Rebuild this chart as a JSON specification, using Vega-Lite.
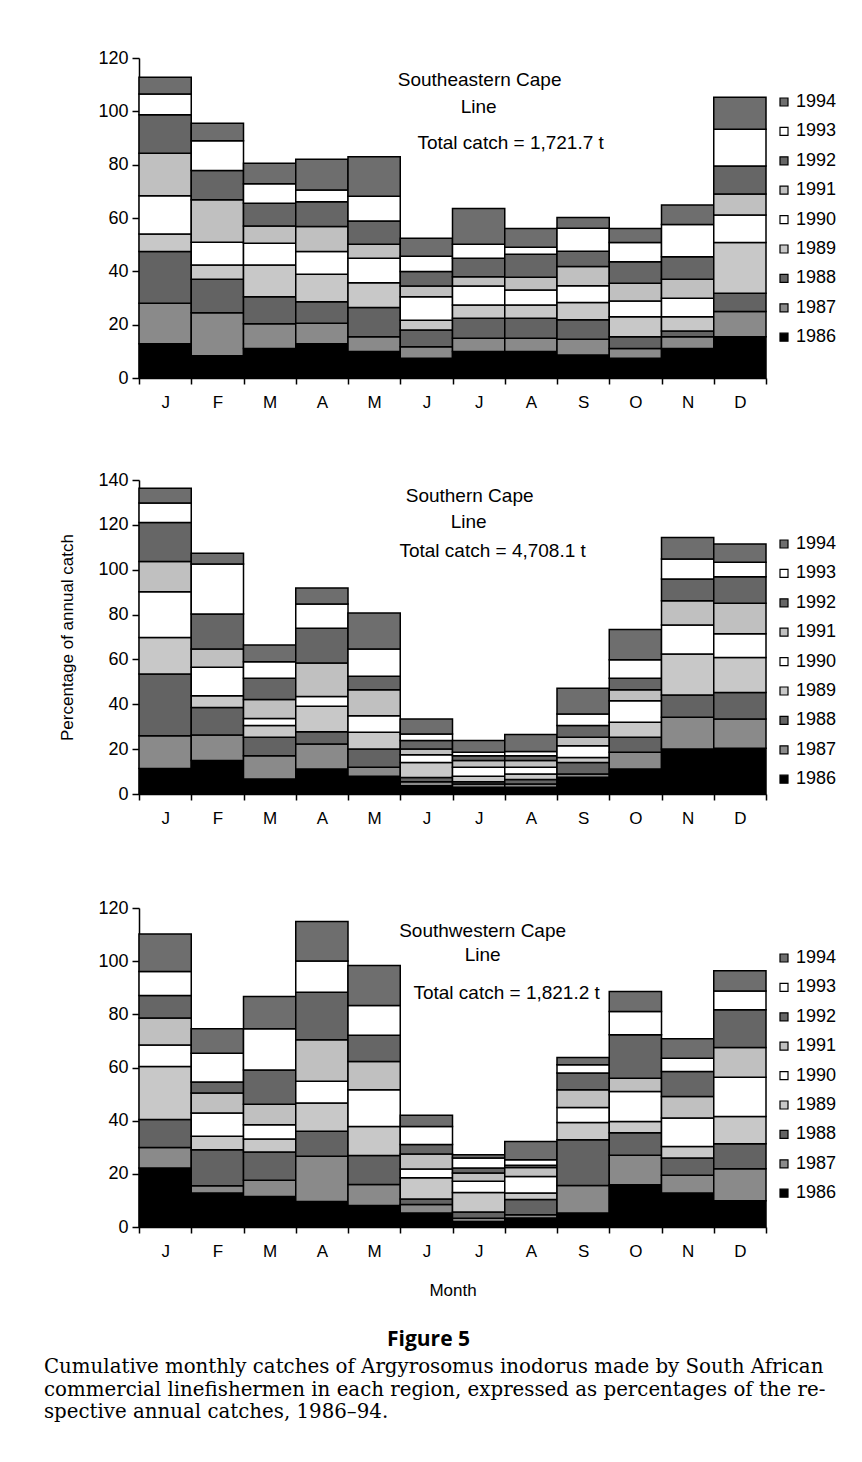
{
"$schema": "https://vega.github.io/schema/vega-lite/v6.json",
"background": "white",
"padding": {"left": 43, "top": 49, "right": 10, "bottom": 10},
"config": {
  "font": "Liberation Sans",
  "view": {"stroke": null},
  "axis": {"domainColor": "black", "tickColor": "black", "labelColor": "black", "titleColor": "black", "grid": false, "domainWidth": 1.5, "tickWidth": 1.5, "labelFont": "Liberation Sans", "titleFont": "Liberation Sans", "titleFontWeight": "normal"},
  "legend": {"labelFont": "Liberation Sans", "labelColor": "black"}
},
"datasets": {
"catch": [
{"region":"SE","month":"Jan","year":1986,"value":12.8},{"region":"SE","month":"Jan","year":1987,"value":15.2},{"region":"SE","month":"Jan","year":1988,"value":19.4},{"region":"SE","month":"Jan","year":1989,"value":6.6},{"region":"SE","month":"Jan","year":1990,"value":14.3},{"region":"SE","month":"Jan","year":1991,"value":16.0},{"region":"SE","month":"Jan","year":1992,"value":14.4},{"region":"SE","month":"Jan","year":1993,"value":7.8},{"region":"SE","month":"Jan","year":1994,"value":6.3},
{"region":"SE","month":"Feb","year":1986,"value":8.3},{"region":"SE","month":"Feb","year":1987,"value":16.2},{"region":"SE","month":"Feb","year":1988,"value":12.5},{"region":"SE","month":"Feb","year":1989,"value":5.4},{"region":"SE","month":"Feb","year":1990,"value":8.5},{"region":"SE","month":"Feb","year":1991,"value":15.9},{"region":"SE","month":"Feb","year":1992,"value":11.0},{"region":"SE","month":"Feb","year":1993,"value":11.2},{"region":"SE","month":"Feb","year":1994,"value":6.5},
{"region":"SE","month":"Mar","year":1986,"value":11.1},{"region":"SE","month":"Mar","year":1987,"value":9.2},{"region":"SE","month":"Mar","year":1988,"value":10.2},{"region":"SE","month":"Mar","year":1989,"value":11.9},{"region":"SE","month":"Mar","year":1990,"value":8.1},{"region":"SE","month":"Mar","year":1991,"value":6.5},{"region":"SE","month":"Mar","year":1992,"value":8.5},{"region":"SE","month":"Mar","year":1993,"value":7.3},{"region":"SE","month":"Mar","year":1994,"value":7.7},
{"region":"SE","month":"Apr","year":1986,"value":12.8},{"region":"SE","month":"Apr","year":1987,"value":7.7},{"region":"SE","month":"Apr","year":1988,"value":8.1},{"region":"SE","month":"Apr","year":1989,"value":10.3},{"region":"SE","month":"Apr","year":1990,"value":8.5},{"region":"SE","month":"Apr","year":1991,"value":9.4},{"region":"SE","month":"Apr","year":1992,"value":9.3},{"region":"SE","month":"Apr","year":1993,"value":4.4},{"region":"SE","month":"Apr","year":1994,"value":11.5},
{"region":"SE","month":"May","year":1986,"value":9.9},{"region":"SE","month":"May","year":1987,"value":5.6},{"region":"SE","month":"May","year":1988,"value":10.9},{"region":"SE","month":"May","year":1989,"value":9.3},{"region":"SE","month":"May","year":1990,"value":9.2},{"region":"SE","month":"May","year":1991,"value":5.3},{"region":"SE","month":"May","year":1992,"value":8.7},{"region":"SE","month":"May","year":1993,"value":9.3},{"region":"SE","month":"May","year":1994,"value":14.8},
{"region":"SE","month":"Jun","year":1986,"value":7.4},{"region":"SE","month":"Jun","year":1987,"value":4.3},{"region":"SE","month":"Jun","year":1988,"value":6.3},{"region":"SE","month":"Jun","year":1989,"value":3.7},{"region":"SE","month":"Jun","year":1990,"value":8.8},{"region":"SE","month":"Jun","year":1991,"value":4.0},{"region":"SE","month":"Jun","year":1992,"value":5.4},{"region":"SE","month":"Jun","year":1993,"value":5.8},{"region":"SE","month":"Jun","year":1994,"value":6.7},
{"region":"SE","month":"Jul","year":1986,"value":9.9},{"region":"SE","month":"Jul","year":1987,"value":5.0},{"region":"SE","month":"Jul","year":1988,"value":7.5},{"region":"SE","month":"Jul","year":1989,"value":5.0},{"region":"SE","month":"Jul","year":1990,"value":7.1},{"region":"SE","month":"Jul","year":1991,"value":3.5},{"region":"SE","month":"Jul","year":1992,"value":6.9},{"region":"SE","month":"Jul","year":1993,"value":5.3},{"region":"SE","month":"Jul","year":1994,"value":13.4},
{"region":"SE","month":"Aug","year":1986,"value":9.9},{"region":"SE","month":"Aug","year":1987,"value":5.0},{"region":"SE","month":"Aug","year":1988,"value":7.5},{"region":"SE","month":"Aug","year":1989,"value":5.0},{"region":"SE","month":"Aug","year":1990,"value":5.6},{"region":"SE","month":"Aug","year":1991,"value":4.8},{"region":"SE","month":"Aug","year":1992,"value":8.6},{"region":"SE","month":"Aug","year":1993,"value":2.6},{"region":"SE","month":"Aug","year":1994,"value":7.1},
{"region":"SE","month":"Sep","year":1986,"value":8.6},{"region":"SE","month":"Sep","year":1987,"value":5.9},{"region":"SE","month":"Sep","year":1988,"value":7.3},{"region":"SE","month":"Sep","year":1989,"value":6.5},{"region":"SE","month":"Sep","year":1990,"value":6.3},{"region":"SE","month":"Sep","year":1991,"value":7.2},{"region":"SE","month":"Sep","year":1992,"value":5.7},{"region":"SE","month":"Sep","year":1993,"value":8.7},{"region":"SE","month":"Sep","year":1994,"value":4.0},
{"region":"SE","month":"Oct","year":1986,"value":7.4},{"region":"SE","month":"Oct","year":1987,"value":3.7},{"region":"SE","month":"Oct","year":1988,"value":4.4},{"region":"SE","month":"Oct","year":1989,"value":7.5},{"region":"SE","month":"Oct","year":1990,"value":5.9},{"region":"SE","month":"Oct","year":1991,"value":6.6},{"region":"SE","month":"Oct","year":1992,"value":8.1},{"region":"SE","month":"Oct","year":1993,"value":7.2},{"region":"SE","month":"Oct","year":1994,"value":5.3},
{"region":"SE","month":"Nov","year":1986,"value":11.1},{"region":"SE","month":"Nov","year":1987,"value":4.4},{"region":"SE","month":"Nov","year":1988,"value":2.1},{"region":"SE","month":"Nov","year":1989,"value":5.4},{"region":"SE","month":"Nov","year":1990,"value":6.9},{"region":"SE","month":"Nov","year":1991,"value":7.1},{"region":"SE","month":"Nov","year":1992,"value":8.5},{"region":"SE","month":"Nov","year":1993,"value":12.1},{"region":"SE","month":"Nov","year":1994,"value":7.3},
{"region":"SE","month":"Dec","year":1986,"value":15.5},{"region":"SE","month":"Dec","year":1987,"value":9.4},{"region":"SE","month":"Dec","year":1988,"value":6.9},{"region":"SE","month":"Dec","year":1989,"value":19.0},{"region":"SE","month":"Dec","year":1990,"value":10.3},{"region":"SE","month":"Dec","year":1991,"value":7.9},{"region":"SE","month":"Dec","year":1992,"value":10.5},{"region":"SE","month":"Dec","year":1993,"value":13.8},{"region":"SE","month":"Dec","year":1994,"value":12.0},
{"region":"S","month":"Jan","year":1986,"value":11.4},{"region":"S","month":"Jan","year":1987,"value":14.6},{"region":"S","month":"Jan","year":1988,"value":27.5},{"region":"S","month":"Jan","year":1989,"value":16.3},{"region":"S","month":"Jan","year":1990,"value":20.4},{"region":"S","month":"Jan","year":1991,"value":13.5},{"region":"S","month":"Jan","year":1992,"value":17.4},{"region":"S","month":"Jan","year":1993,"value":8.6},{"region":"S","month":"Jan","year":1994,"value":6.6},
{"region":"S","month":"Feb","year":1986,"value":14.9},{"region":"S","month":"Feb","year":1987,"value":11.4},{"region":"S","month":"Feb","year":1988,"value":12.3},{"region":"S","month":"Feb","year":1989,"value":5.2},{"region":"S","month":"Feb","year":1990,"value":12.7},{"region":"S","month":"Feb","year":1991,"value":8.1},{"region":"S","month":"Feb","year":1992,"value":15.6},{"region":"S","month":"Feb","year":1993,"value":22.3},{"region":"S","month":"Feb","year":1994,"value":4.8},
{"region":"S","month":"Mar","year":1986,"value":6.7},{"region":"S","month":"Mar","year":1987,"value":10.4},{"region":"S","month":"Mar","year":1988,"value":8.2},{"region":"S","month":"Mar","year":1989,"value":5.2},{"region":"S","month":"Mar","year":1990,"value":3.2},{"region":"S","month":"Mar","year":1991,"value":8.4},{"region":"S","month":"Mar","year":1992,"value":9.5},{"region":"S","month":"Mar","year":1993,"value":7.4},{"region":"S","month":"Mar","year":1994,"value":7.4},
{"region":"S","month":"Apr","year":1986,"value":11.1},{"region":"S","month":"Apr","year":1987,"value":11.2},{"region":"S","month":"Apr","year":1988,"value":5.5},{"region":"S","month":"Apr","year":1989,"value":11.3},{"region":"S","month":"Apr","year":1990,"value":4.4},{"region":"S","month":"Apr","year":1991,"value":14.9},{"region":"S","month":"Apr","year":1992,"value":15.5},{"region":"S","month":"Apr","year":1993,"value":10.8},{"region":"S","month":"Apr","year":1994,"value":7.1},
{"region":"S","month":"May","year":1986,"value":7.9},{"region":"S","month":"May","year":1987,"value":4.0},{"region":"S","month":"May","year":1988,"value":8.2},{"region":"S","month":"May","year":1989,"value":7.4},{"region":"S","month":"May","year":1990,"value":7.4},{"region":"S","month":"May","year":1991,"value":11.6},{"region":"S","month":"May","year":1992,"value":6.0},{"region":"S","month":"May","year":1993,"value":12.1},{"region":"S","month":"May","year":1994,"value":16.1},
{"region":"S","month":"Jun","year":1986,"value":3.7},{"region":"S","month":"Jun","year":1987,"value":1.8},{"region":"S","month":"Jun","year":1988,"value":1.9},{"region":"S","month":"Jun","year":1989,"value":6.7},{"region":"S","month":"Jun","year":1990,"value":3.4},{"region":"S","month":"Jun","year":1991,"value":2.6},{"region":"S","month":"Jun","year":1992,"value":3.7},{"region":"S","month":"Jun","year":1993,"value":2.9},{"region":"S","month":"Jun","year":1994,"value":6.7},
{"region":"S","month":"Jul","year":1986,"value":3.0},{"region":"S","month":"Jul","year":1987,"value":1.5},{"region":"S","month":"Jul","year":1988,"value":1.0},{"region":"S","month":"Jul","year":1989,"value":2.4},{"region":"S","month":"Jul","year":1990,"value":4.0},{"region":"S","month":"Jul","year":1991,"value":3.0},{"region":"S","month":"Jul","year":1992,"value":2.2},{"region":"S","month":"Jul","year":1993,"value":1.5},{"region":"S","month":"Jul","year":1994,"value":5.2},
{"region":"S","month":"Aug","year":1986,"value":3.0},{"region":"S","month":"Aug","year":1987,"value":1.5},{"region":"S","month":"Aug","year":1988,"value":2.0},{"region":"S","month":"Aug","year":1989,"value":2.4},{"region":"S","month":"Aug","year":1990,"value":3.0},{"region":"S","month":"Aug","year":1991,"value":3.0},{"region":"S","month":"Aug","year":1992,"value":2.2},{"region":"S","month":"Aug","year":1993,"value":1.8},{"region":"S","month":"Aug","year":1994,"value":7.6},
{"region":"S","month":"Sep","year":1986,"value":7.5},{"region":"S","month":"Sep","year":1987,"value":1.4},{"region":"S","month":"Sep","year":1988,"value":5.2},{"region":"S","month":"Sep","year":1989,"value":2.2},{"region":"S","month":"Sep","year":1990,"value":5.2},{"region":"S","month":"Sep","year":1991,"value":3.8},{"region":"S","month":"Sep","year":1992,"value":5.2},{"region":"S","month":"Sep","year":1993,"value":5.2},{"region":"S","month":"Sep","year":1994,"value":11.4},
{"region":"S","month":"Oct","year":1986,"value":11.1},{"region":"S","month":"Oct","year":1987,"value":7.5},{"region":"S","month":"Oct","year":1988,"value":6.7},{"region":"S","month":"Oct","year":1989,"value":6.7},{"region":"S","month":"Oct","year":1990,"value":9.6},{"region":"S","month":"Oct","year":1991,"value":4.9},{"region":"S","month":"Oct","year":1992,"value":5.1},{"region":"S","month":"Oct","year":1993,"value":8.3},{"region":"S","month":"Oct","year":1994,"value":13.4},
{"region":"S","month":"Nov","year":1986,"value":20.1},{"region":"S","month":"Nov","year":1987,"value":14.1},{"region":"S","month":"Nov","year":1988,"value":9.9},{"region":"S","month":"Nov","year":1989,"value":18.3},{"region":"S","month":"Nov","year":1990,"value":13.0},{"region":"S","month":"Nov","year":1991,"value":10.8},{"region":"S","month":"Nov","year":1992,"value":9.7},{"region":"S","month":"Nov","year":1993,"value":8.9},{"region":"S","month":"Nov","year":1994,"value":9.6},
{"region":"S","month":"Dec","year":1986,"value":20.4},{"region":"S","month":"Dec","year":1987,"value":13.0},{"region":"S","month":"Dec","year":1988,"value":11.9},{"region":"S","month":"Dec","year":1989,"value":15.6},{"region":"S","month":"Dec","year":1990,"value":10.6},{"region":"S","month":"Dec","year":1991,"value":13.5},{"region":"S","month":"Dec","year":1992,"value":11.9},{"region":"S","month":"Dec","year":1993,"value":6.4},{"region":"S","month":"Dec","year":1994,"value":8.2},
{"region":"SW","month":"Jan","year":1986,"value":22.2},{"region":"SW","month":"Jan","year":1987,"value":7.7},{"region":"SW","month":"Jan","year":1988,"value":10.5},{"region":"SW","month":"Jan","year":1989,"value":20.0},{"region":"SW","month":"Jan","year":1990,"value":8.1},{"region":"SW","month":"Jan","year":1991,"value":10.1},{"region":"SW","month":"Jan","year":1992,"value":8.5},{"region":"SW","month":"Jan","year":1993,"value":9.0},{"region":"SW","month":"Jan","year":1994,"value":14.1},
{"region":"SW","month":"Feb","year":1986,"value":12.8},{"region":"SW","month":"Feb","year":1987,"value":2.7},{"region":"SW","month":"Feb","year":1988,"value":13.6},{"region":"SW","month":"Feb","year":1989,"value":5.0},{"region":"SW","month":"Feb","year":1990,"value":8.8},{"region":"SW","month":"Feb","year":1991,"value":7.5},{"region":"SW","month":"Feb","year":1992,"value":4.1},{"region":"SW","month":"Feb","year":1993,"value":10.9},{"region":"SW","month":"Feb","year":1994,"value":9.2},
{"region":"SW","month":"Mar","year":1986,"value":11.5},{"region":"SW","month":"Mar","year":1987,"value":6.1},{"region":"SW","month":"Mar","year":1988,"value":10.6},{"region":"SW","month":"Mar","year":1989,"value":4.9},{"region":"SW","month":"Mar","year":1990,"value":5.4},{"region":"SW","month":"Mar","year":1991,"value":7.7},{"region":"SW","month":"Mar","year":1992,"value":12.9},{"region":"SW","month":"Mar","year":1993,"value":15.5},{"region":"SW","month":"Mar","year":1994,"value":12.1},
{"region":"SW","month":"Apr","year":1986,"value":9.6},{"region":"SW","month":"Apr","year":1987,"value":17.0},{"region":"SW","month":"Apr","year":1988,"value":9.4},{"region":"SW","month":"Apr","year":1989,"value":10.6},{"region":"SW","month":"Apr","year":1990,"value":8.2},{"region":"SW","month":"Apr","year":1991,"value":15.6},{"region":"SW","month":"Apr","year":1992,"value":17.9},{"region":"SW","month":"Apr","year":1993,"value":11.8},{"region":"SW","month":"Apr","year":1994,"value":14.8},
{"region":"SW","month":"May","year":1986,"value":8.1},{"region":"SW","month":"May","year":1987,"value":7.9},{"region":"SW","month":"May","year":1988,"value":10.9},{"region":"SW","month":"May","year":1989,"value":10.9},{"region":"SW","month":"May","year":1990,"value":13.8},{"region":"SW","month":"May","year":1991,"value":10.7},{"region":"SW","month":"May","year":1992,"value":9.8},{"region":"SW","month":"May","year":1993,"value":11.2},{"region":"SW","month":"May","year":1994,"value":15.1},
{"region":"SW","month":"Jun","year":1986,"value":5.3},{"region":"SW","month":"Jun","year":1987,"value":3.2},{"region":"SW","month":"Jun","year":1988,"value":2.0},{"region":"SW","month":"Jun","year":1989,"value":8.0},{"region":"SW","month":"Jun","year":1990,"value":3.3},{"region":"SW","month":"Jun","year":1991,"value":5.7},{"region":"SW","month":"Jun","year":1992,"value":3.5},{"region":"SW","month":"Jun","year":1993,"value":6.8},{"region":"SW","month":"Jun","year":1994,"value":4.2},
{"region":"SW","month":"Jul","year":1986,"value":2.1},{"region":"SW","month":"Jul","year":1987,"value":1.2},{"region":"SW","month":"Jul","year":1988,"value":2.3},{"region":"SW","month":"Jul","year":1989,"value":7.4},{"region":"SW","month":"Jul","year":1990,"value":4.2},{"region":"SW","month":"Jul","year":1991,"value":3.1},{"region":"SW","month":"Jul","year":1992,"value":1.9},{"region":"SW","month":"Jul","year":1993,"value":3.8},{"region":"SW","month":"Jul","year":1994,"value":1.2},
{"region":"SW","month":"Aug","year":1986,"value":3.4},{"region":"SW","month":"Aug","year":1987,"value":1.2},{"region":"SW","month":"Aug","year":1988,"value":5.7},{"region":"SW","month":"Aug","year":1989,"value":2.5},{"region":"SW","month":"Aug","year":1990,"value":6.2},{"region":"SW","month":"Aug","year":1991,"value":3.4},{"region":"SW","month":"Aug","year":1992,"value":0.8},{"region":"SW","month":"Aug","year":1993,"value":2.1},{"region":"SW","month":"Aug","year":1994,"value":6.9},
{"region":"SW","month":"Sep","year":1986,"value":5.3},{"region":"SW","month":"Sep","year":1987,"value":10.3},{"region":"SW","month":"Sep","year":1988,"value":17.2},{"region":"SW","month":"Sep","year":1989,"value":6.5},{"region":"SW","month":"Sep","year":1990,"value":5.7},{"region":"SW","month":"Sep","year":1991,"value":6.6},{"region":"SW","month":"Sep","year":1992,"value":6.3},{"region":"SW","month":"Sep","year":1993,"value":3.1},{"region":"SW","month":"Sep","year":1994,"value":2.8},
{"region":"SW","month":"Oct","year":1986,"value":15.9},{"region":"SW","month":"Oct","year":1987,"value":11.1},{"region":"SW","month":"Oct","year":1988,"value":8.5},{"region":"SW","month":"Oct","year":1989,"value":4.2},{"region":"SW","month":"Oct","year":1990,"value":11.3},{"region":"SW","month":"Oct","year":1991,"value":5.0},{"region":"SW","month":"Oct","year":1992,"value":16.3},{"region":"SW","month":"Oct","year":1993,"value":8.8},{"region":"SW","month":"Oct","year":1994,"value":7.5},
{"region":"SW","month":"Nov","year":1986,"value":12.8},{"region":"SW","month":"Nov","year":1987,"value":6.7},{"region":"SW","month":"Nov","year":1988,"value":6.5},{"region":"SW","month":"Nov","year":1989,"value":4.3},{"region":"SW","month":"Nov","year":1990,"value":10.7},{"region":"SW","month":"Nov","year":1991,"value":8.1},{"region":"SW","month":"Nov","year":1992,"value":9.4},{"region":"SW","month":"Nov","year":1993,"value":5.0},{"region":"SW","month":"Nov","year":1994,"value":7.3},
{"region":"SW","month":"Dec","year":1986,"value":9.9},{"region":"SW","month":"Dec","year":1987,"value":12.0},{"region":"SW","month":"Dec","year":1988,"value":9.4},{"region":"SW","month":"Dec","year":1989,"value":10.3},{"region":"SW","month":"Dec","year":1990,"value":14.7},{"region":"SW","month":"Dec","year":1991,"value":11.2},{"region":"SW","month":"Dec","year":1992,"value":14.2},{"region":"SW","month":"Dec","year":1993,"value":7.1},{"region":"SW","month":"Dec","year":1994,"value":7.6}
]
},
"title": {
  "text": ["Cumulative monthly catches of Argyrosomus inodorus made by South African", "commercial linefishermen in each region, expressed as percentages of the re-", "spective annual catches, 1986–94."],
  "orient": "bottom", "anchor": "start", "frame": "bounds", "dx": -15, "offset": 7,
  "font": "DejaVu Serif", "fontSize": 19.8, "fontWeight": "normal", "lineHeight": 22.5, "color": "black"
},
"spacing": 61,
"resolve": {"legend": {"fill": "independent"}},
"vconcat": [
{
  "width": 627, "height": 320,
  "layer": [
    {
      "data": {"name": "catch"},
      "transform": [{"filter": "datum.region == 'SE'"}],
      "mark": {"type": "bar", "stroke": "black", "strokeWidth": 1.5},
      "encoding": {
        "x": {"field": "month", "type": "nominal", "scale": {"domain": ["Jan","Feb","Mar","Apr","May","Jun","Jul","Aug","Sep","Oct","Nov","Dec"], "paddingInner": 0, "paddingOuter": 0},
              "axis": {"title": null, "labelExpr": "substring(datum.label, 0, 1)", "labelAngle": 0, "tickBand": "extent", "tickSize": 6, "labelPadding": 10, "labelFontSize": 17}},
        "y": {"field": "value", "type": "quantitative", "stack": "zero", "scale": {"domain": [0, 120], "nice": false},
              "axis": {"title": null, "values": [0,20,40,60,80,100,120], "tickSize": 7, "labelPadding": 4, "labelFontSize": 18}},
        "fill": {"field": "year", "type": "nominal",
                 "scale": {"domain": [1994,1993,1992,1991,1990,1989,1988,1987,1986], "range": ["#6e6e6e","#ffffff","#666666","#c0c0c0","#ffffff","#c8c8c8","#636363","#8a8a8a","#000000"]},
                 "legend": {"title": null, "orient": "none", "legendX": 636, "legendY": 35, "symbolType": "square", "symbolSize": 64, "symbolStrokeColor": "black", "symbolStrokeWidth": 1.2, "labelFontSize": 18, "labelOffset": 3, "rowPadding": 11.4, "padding": 0}},
        "order": {"field": "year", "type": "quantitative", "sort": "ascending"}
      }
    },
    {"data": {"values": [{}]}, "mark": {"type": "text", "text": "Southeastern Cape", "fontSize": 19, "dx": 1}, "encoding": {"x": {"datum": "Jul"}, "y": {"datum": 111.7}}},
    {"data": {"values": [{}]}, "mark": {"type": "text", "text": "Line", "fontSize": 19}, "encoding": {"x": {"datum": "Jul"}, "y": {"datum": 101.7}}},
    {"data": {"values": [{}]}, "mark": {"type": "text", "text": "Total catch = 1,721.7 t", "fontSize": 19, "dx": 32}, "encoding": {"x": {"datum": "Jul"}, "y": {"datum": 88.0}}}
  ]
},
{
  "width": 627, "height": 314,
  "layer": [
    {
      "data": {"name": "catch"},
      "transform": [{"filter": "datum.region == 'S'"}],
      "mark": {"type": "bar", "stroke": "black", "strokeWidth": 1.5},
      "encoding": {
        "x": {"field": "month", "type": "nominal", "scale": {"domain": ["Jan","Feb","Mar","Apr","May","Jun","Jul","Aug","Sep","Oct","Nov","Dec"], "paddingInner": 0, "paddingOuter": 0},
              "axis": {"title": " ", "titleFontSize": 8, "titlePadding": 4, "labelExpr": "substring(datum.label, 0, 1)", "labelAngle": 0, "tickBand": "extent", "tickSize": 6, "labelPadding": 10, "labelFontSize": 17}},
        "y": {"field": "value", "type": "quantitative", "stack": "zero", "scale": {"domain": [0, 140], "nice": false},
              "axis": {"title": "Percentage of annual catch", "titleFontSize": 17, "titlePadding": 21, "values": [0,20,40,60,80,100,120,140], "tickSize": 7, "labelPadding": 4, "labelFontSize": 18}},
        "fill": {"field": "year", "type": "nominal",
                 "scale": {"domain": [1994,1993,1992,1991,1990,1989,1988,1987,1986], "range": ["#6e6e6e","#ffffff","#666666","#c0c0c0","#ffffff","#c8c8c8","#636363","#8a8a8a","#000000"]},
                 "legend": {"title": null, "orient": "none", "legendX": 636, "legendY": 55, "symbolType": "square", "symbolSize": 64, "symbolStrokeColor": "black", "symbolStrokeWidth": 1.2, "labelFontSize": 18, "labelOffset": 3, "rowPadding": 11.4, "padding": 0}},
        "order": {"field": "year", "type": "quantitative", "sort": "ascending"}
      }
    },
    {"data": {"values": [{}]}, "mark": {"type": "text", "text": "Southern Cape", "fontSize": 19, "dx": -9}, "encoding": {"x": {"datum": "Jul"}, "y": {"datum": 133.0}}},
    {"data": {"values": [{}]}, "mark": {"type": "text", "text": "Line", "fontSize": 19, "dx": -10}, "encoding": {"x": {"datum": "Jul"}, "y": {"datum": 121.3}}},
    {"data": {"values": [{}]}, "mark": {"type": "text", "text": "Total catch = 4,708.1 t", "fontSize": 19, "dx": 14}, "encoding": {"x": {"datum": "Jul"}, "y": {"datum": 108.5}}}
  ]
},
{
  "width": 627, "height": 319,
  "title": {"text": "Figure 5", "orient": "bottom", "anchor": "middle", "frame": "group", "offset": 31, "dx": -24, "font": "Open Sans", "fontSize": 21, "fontWeight": "bold", "color": "black"},
  "layer": [
    {
      "data": {"name": "catch"},
      "transform": [{"filter": "datum.region == 'SW'"}],
      "mark": {"type": "bar", "stroke": "black", "strokeWidth": 1.5},
      "encoding": {
        "x": {"field": "month", "type": "nominal", "scale": {"domain": ["Jan","Feb","Mar","Apr","May","Jun","Jul","Aug","Sep","Oct","Nov","Dec"], "paddingInner": 0, "paddingOuter": 0},
              "axis": {"title": "Month", "titleFontSize": 17, "titlePadding": 23, "labelExpr": "substring(datum.label, 0, 1)", "labelAngle": 0, "tickBand": "extent", "tickSize": 6, "labelPadding": 10, "labelFontSize": 17}},
        "y": {"field": "value", "type": "quantitative", "stack": "zero", "scale": {"domain": [0, 120], "nice": false},
              "axis": {"title": null, "values": [0,20,40,60,80,100,120], "tickSize": 7, "labelPadding": 4, "labelFontSize": 18}},
        "fill": {"field": "year", "type": "nominal",
                 "scale": {"domain": [1994,1993,1992,1991,1990,1989,1988,1987,1986], "range": ["#6e6e6e","#ffffff","#666666","#c0c0c0","#ffffff","#c8c8c8","#636363","#8a8a8a","#000000"]},
                 "legend": {"title": null, "orient": "none", "legendX": 636, "legendY": 41, "symbolType": "square", "symbolSize": 64, "symbolStrokeColor": "black", "symbolStrokeWidth": 1.2, "labelFontSize": 18, "labelOffset": 3, "rowPadding": 11.4, "padding": 0}},
        "order": {"field": "year", "type": "quantitative", "sort": "ascending"}
      }
    },
    {"data": {"values": [{}]}, "mark": {"type": "text", "text": "Southwestern Cape", "fontSize": 19, "dx": 4}, "encoding": {"x": {"datum": "Jul"}, "y": {"datum": 111.3}}},
    {"data": {"values": [{}]}, "mark": {"type": "text", "text": "Line", "fontSize": 19, "dx": 4}, "encoding": {"x": {"datum": "Jul"}, "y": {"datum": 102.4}}},
    {"data": {"values": [{}]}, "mark": {"type": "text", "text": "Total catch = 1,821.2 t", "fontSize": 19, "dx": 28}, "encoding": {"x": {"datum": "Jul"}, "y": {"datum": 88.0}}}
  ]
}
]
}
